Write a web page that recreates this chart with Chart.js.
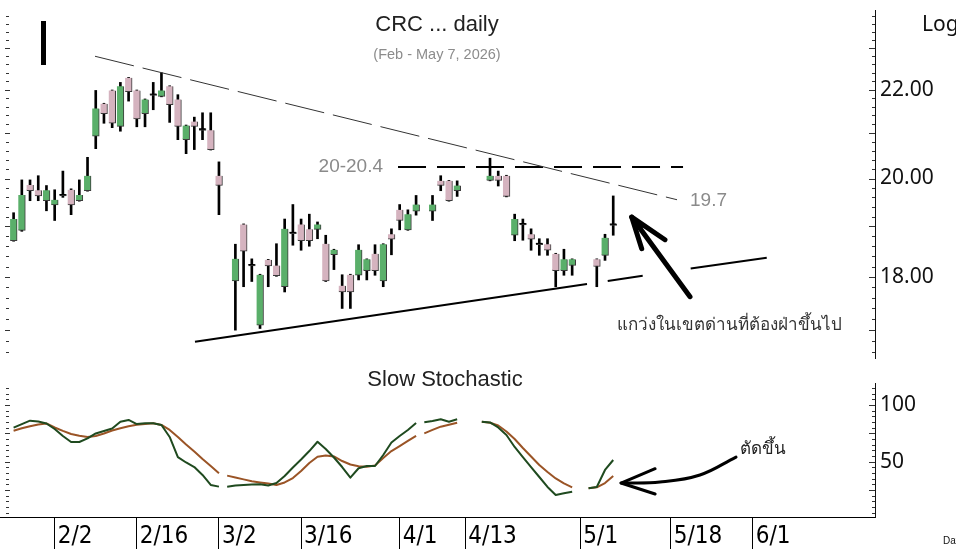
<!DOCTYPE html>
<html><head><meta charset="utf-8">
<script src="https://cdn.jsdelivr.net/npm/chart.js@4.4.1/dist/chart.umd.min.js"></script>
<style>
html,body{margin:0;padding:0;background:#fff;overflow:hidden;}
#wrap{position:relative;width:956px;height:549px;background:#fff;}
#c1{position:absolute;left:0;top:0;}
#c2{position:absolute;left:0;top:366px;}
</style></head><body>
<div id="wrap"><canvas id="c1" width="956" height="366"></canvas><canvas id="c2" width="956" height="183"></canvas></div>
<script>
// ---------- DATA ----------
const days = ['1/26','1/27','1/28','1/29','1/30','2/2','2/3','2/4','2/5','2/6',
 '2/9','2/10','2/11','2/12','2/13','2/16','2/17','2/18','2/19','2/20',
 '2/23','2/24','2/25','2/26','2/27','3/2','3/3','3/4','3/5','3/6',
 '3/9','3/10','3/11','3/12','3/13','3/16','3/17','3/18','3/19','3/20',
 '3/23','3/24','3/25','3/26','3/27','3/30','3/31','4/1','4/2','4/3',
 '4/6','4/7','4/8','4/9','4/10','4/13','4/14','4/15','4/16','4/17',
 '4/20','4/21','4/22','4/23','4/24','4/27','4/28','4/29','4/30','5/1',
 '5/4','5/5','5/6','5/7','5/8','5/11','5/12','5/13','5/14','5/15',
 '5/18','5/19','5/20','5/21','5/22','5/25','5/26','5/27','5/28','5/29',
 '6/1','6/2','6/3','6/4','6/5','6/8','6/9','6/10','6/11','6/12',
 '6/15','6/16','6/17','6/18','6/19','6/22'];
const opens = [18.71,18.92,19.86,19.75,19.53,19.44,19.63,19.76,19.53,19.74,
 20.93,21.67,21.98,21.15,22.28,21.98,21.44,21.86,21.84,22.08,
 21.77,20.85,21.26,21.06,21.06,20.06,null,17.92,19.04,18.21,
 17.09,18.33,18.22,17.81,18.85,19.04,18.94,18.94,18.65,18.43,
 17.83,18.04,18.03,18.12,18.45,17.92,18.84,19.34,18.93,19.31,
 null,19.31,19.95,19.95,19.74,null,null,null,19.96,20.06,
 20.06,18.82,19.03,18.84,18.63,18.64,18.45,18.12,18.22,null,
 null,18.34,18.42,19.02];
const highs = [19.28,19.97,19.97,20.06,19.85,19.76,20.16,19.78,19.97,20.46,
 21.98,21.68,21.99,22.17,22.29,21.99,21.78,22.17,22.40,22.09,
 21.88,21.18,21.36,21.46,21.46,20.36,null,18.64,19.05,18.35,
 18.05,18.34,18.65,19.15,19.45,19.15,19.25,19.09,18.82,18.54,
 18.04,18.05,18.63,18.35,18.63,18.65,18.95,19.45,19.34,19.64,
 null,19.64,20.06,19.96,19.95,null,null,null,20.44,20.16,
 20.07,19.25,19.15,18.95,18.75,18.75,18.46,18.54,18.35,null,
 null,18.35,18.84,19.63];
const lows = [18.70,18.90,19.53,19.53,19.32,19.12,19.60,19.24,19.52,19.73,
 20.65,21.22,21.12,21.04,21.73,21.14,21.14,21.53,21.83,21.24,
 20.85,20.54,20.63,20.85,20.62,19.24,null,17.00,17.81,17.91,
 17.03,17.81,18.01,17.71,18.62,18.52,18.60,18.75,17.91,18.14,
 17.40,17.40,17.94,17.94,18.03,17.81,18.43,18.93,18.92,19.23,
 null,19.12,19.74,19.52,19.62,null,null,null,19.95,19.84,
 19.61,18.71,18.72,18.52,18.42,18.42,17.81,18.03,18.03,null,
 null,17.81,18.32,18.82];
const closes = [19.15,19.65,19.74,19.63,19.75,19.55,19.63,19.44,19.65,20.06,
 21.56,21.44,21.22,22.08,21.95,21.32,21.77,21.86,21.98,21.65,
 21.15,21.17,21.15,21.06,20.63,19.85,null,18.35,18.50,18.21,
 18.04,18.21,18.02,18.95,18.85,18.71,18.71,19.04,17.92,18.53,
 17.71,17.71,18.53,18.34,18.12,18.64,18.74,19.12,19.25,19.45,
 null,19.45,19.85,19.53,19.85,null,null,null,20.06,19.96,
 19.62,19.15,19.03,18.74,18.63,18.52,18.12,18.34,18.34,null,
 null,18.20,18.77,19.02];
const stochK = [80.0,83.2,86.2,85.4,83.7,78.8,72.7,67.4,67.4,70.5,
 74.9,77.1,79.3,85.3,86.8,83.2,83.9,83.9,82.4,71.8,
 54.1,49.3,45.3,38.3,29.5,28.0,28.0,29.0,29.5,29.9,
 30.1,29.0,31.2,37.4,44.9,51.9,59.4,67.6,61.2,53.7,
 45.3,35.9,44.2,46.2,46.2,55.9,66.9,72.7,78.0,84.1,
 84.7,85.9,87.4,85.3,87.4,null,null,85.3,84.6,80.2,
 73.5,63.0,54.1,45.3,36.5,27.7,20.6,22.1,23.5,null,
 26.5,27.7,42.7,51.5];
const stochD = [77.3,79.5,81.3,82.8,83.7,80.2,77.2,74.4,72.9,71.8,
 72.7,74.9,77.5,79.5,81.2,82.5,83.2,83.9,82.4,78.0,
 71.8,65.2,59.0,52.4,46.2,39.8,37.7,36.1,34.4,32.7,
 31.7,30.8,29.5,31.7,35.6,41.8,48.9,54.4,55.5,54.6,
 50.6,47.5,45.9,45.6,46.6,53.3,59.4,63.8,68.3,72.7,
 75.0,78.0,80.9,82.6,84.4,null,null,85.3,84.4,81.9,
 76.6,70.0,62.1,54.6,47.1,40.9,35.2,30.8,27.4,null,
 26.5,27.4,31.2,37.4];
const tickDates = ['2/2','2/16','3/2','3/16','4/1','4/13','5/1','5/18','6/1'];
const priceTicks = [18, 20, 22];
const stochTicks = [50, 100];
// annotation lines (x = trading-day slot, y = price)
const resistX = [9.91, 80.77], resistY = [22.80, 19.55];
const zoneX = [46.8, 81.5], zoneY = [20.25, 20.25];
const supportX = [22.08, 69.81], supportY = [16.79, 17.86];
const supportExtX = [72.33, 76.59, null, 82.43, 91.69], supportExtY = [17.92, 18.02, null, 18.16, 18.37];
const arrowX = [82.35, 75.25, 79.30], arrowY = [17.62, 19.19, 18.73];
const arrowHeadX = [75.25, 76.47], arrowHeadY = [19.19, 18.55];
const stArrowX = [87.95, 83.56, 78.69, 73.95], stArrowY = [54.1, 38.3, 32.1, 31.2];
const stHeadX = [78.1, 73.95, 78.1], stHeadY = [43.8, 31.2, 21.5];

const TITLE = 'CRC ... daily';
const SUBTITLE = '(Feb - May 7, 2026)';
const ZONE_LABEL = '20-20.4';
const LINE_LABEL = '19.7';
const NOTE = 'แกว่งในเขตด่านที่ต้องฝ่าขึ้นไป';
const NOTE2 = 'ตัดขึ้น';
const PANEL2 = 'Slow Stochastic';

// ---------- STYLE / LAYOUT ----------
const XMIN = -1.656, XMAX = 104.87;
const PRICE_MIN = 16.533, PRICE_MAX = 23.959;
const STO_MIN = 1.23, STO_MAX = 119.4;
const UP = '#5aaf6a', DOWN = '#d5b3bf';
const K_COL = '#1f4a1f', D_COL = '#9a5426';
const DATE_FONT = '"DejaVu Sans Condensed", "Liberation Sans Narrow", "Liberation Sans"';

const pts = (xs, ys) => xs.map((v, i) => ({x: v, y: v == null ? null : ys[i]}));

const bodyData = [], wickData = [];
for (let i = 0; i < opens.length; i++) {
  if (opens[i] == null) continue;
  bodyData.push({x: i, y: [opens[i], closes[i]]});
  wickData.push({x: i, y: [lows[i], highs[i]]});
}

function txt(ctx, s, x, y, font, color, align, base) {
  ctx.save(); ctx.font = font; ctx.fillStyle = color;
  ctx.textAlign = align || 'left'; ctx.textBaseline = base || 'middle';
  ctx.fillText(s, x, y); ctx.restore();
}

const topDeco = {
  id: 'topDeco',
  afterDraw(chart) {
    const {ctx, scales: {x, y}, chartArea: ca} = chart;
    txt(ctx, TITLE, 437, 25, '22px "Liberation Sans"', '#222', 'center');
    txt(ctx, SUBTITLE, 437, 55, '14.5px "Liberation Sans"', '#8c8c8c', 'center');
    ctx.fillStyle = '#000'; ctx.fillRect(41, 21, 5, 44);
    txt(ctx, 'Log', 922, 25, '21px "Noto Sans"', '#111', 'left');
    txt(ctx, ZONE_LABEL, x.getPixelForValue(zoneX[0]) - 15, y.getPixelForValue(zoneY[0]), '19px "Liberation Sans"', '#8a8a8a', 'right');
    txt(ctx, LINE_LABEL, x.getPixelForValue(resistX[1]) + 13, y.getPixelForValue(resistY[1]) + 1, '19px "Liberation Sans"', '#8a8a8a', 'left');
    txt(ctx, NOTE, 617, 325, '17px "Noto Sans", "DejaVu Sans", sans-serif', '#333', 'left');
    ctx.fillStyle = '#333';
    for (let k = 83; k <= 119; k++) {
      const v = k / 5, py = Math.round(y.getPixelForValue(v));
      const major = k % 5 === 0;
      if (py < ca.top || py > ca.bottom) continue;
      ctx.fillRect(major ? 5 : 6, py, major ? 5 : 3, 1);
      ctx.fillRect(ca.right - (major ? 6 : 3), py, major ? 6 : 3, 1);
    }
  }
};

const botDeco = {
  id: 'botDeco',
  afterDraw(chart) {
    const {ctx, scales: {x, y}, chartArea: ca} = chart;
    txt(ctx, PANEL2, 445, 14, '22px "Liberation Sans"', '#222', 'center');
    txt(ctx, NOTE2, 740, 83, '17px "Noto Sans", "DejaVu Sans", sans-serif', '#222', 'left');
    txt(ctx, 'Data', 943, 175, '10px "Liberation Sans"', '#111', 'left');
    ctx.fillStyle = '#333';
    for (let v = 5; v <= 115; v += 5) {
      const py = Math.round(y.getPixelForValue(v));
      const major = v % 25 === 0;
      ctx.fillRect(major ? 5 : 6, py, major ? 5 : 3, 1);
      ctx.fillRect(ca.right - (major ? 6 : 3), py, major ? 6 : 3, 1);
    }
  }
};

const lineDs = (data, color, width, dash, order) => ({
  type: 'line', data, borderColor: color, borderWidth: width, borderDash: dash || [],
  pointRadius: 0, tension: 0, spanGaps: false, fill: false, order: order || 0,
  borderCapStyle: 'butt', borderJoinStyle: 'round'
});

new Chart(document.getElementById('c1'), {
  type: 'bar',
  data: {
    datasets: [
      {type: 'bar', data: wickData, backgroundColor: '#000', barThickness: 2, grouped: false, order: 3},
      {type: 'bar', data: bodyData, grouped: false, barThickness: 7, minBarLength: 2, order: 2,
        backgroundColor: c => { const r = c.raw; if (!r) return UP; return r.y[1] > r.y[0] ? UP : (r.y[1] < r.y[0] ? DOWN : '#000'); },
        borderColor: '#3a3a3a', borderWidth: {top: 0, left: 0, right: 1, bottom: 1}, borderSkipped: false},
      lineDs(pts(resistX, resistY), '#333', 1, [40, 9]),
      lineDs(pts(zoneX, zoneY), '#000', 2, [28, 11]),
      lineDs(pts(supportX, supportY), '#000', 2),
      lineDs(pts(supportExtX, supportExtY), '#000', 2),
      Object.assign(lineDs(pts(arrowX, arrowY), '#000', 5), {borderCapStyle: 'round'}),
      Object.assign(lineDs(pts(arrowHeadX, arrowHeadY), '#000', 5), {borderCapStyle: 'round'})
    ]
  },
  options: {
    responsive: false, animation: false, devicePixelRatio: 1,
    layout: {padding: {top: 10, bottom: 8, left: 0, right: 0}},
    plugins: {legend: {display: false}, tooltip: {enabled: false}},
    scales: {
      x: {type: 'linear', min: XMIN, max: XMAX, offset: false, display: false, grid: {offset: false}},
      y: {type: 'logarithmic', position: 'right', min: PRICE_MIN, max: PRICE_MAX,
        afterBuildTicks: s => { s.ticks = priceTicks.map(v => ({value: v})); },
        afterFit: s => { s.width = 81; s.paddingTop = 0; s.paddingBottom = 0; },
        grid: {drawOnChartArea: false, drawTicks: false},
        border: {display: true, color: '#111', width: 1},
        ticks: {padding: 5, color: '#111', font: {family: 'Noto Sans', size: 21}, callback: v => Number(v).toFixed(2)}}
    }
  },
  plugins: [topDeco]
});

const segHide = color => ({borderColor: c => closes[c.p1DataIndex] == null ? 'rgba(0,0,0,0)' : color});
const stoPts = arr => arr.map((v, i) => ({x: i, y: v}));

new Chart(document.getElementById('c2'), {
  type: 'line',
  data: {
    datasets: [
      Object.assign(lineDs(stoPts(stochD), D_COL, 2, [], 1), {segment: segHide(D_COL)}),
      Object.assign(lineDs(stoPts(stochK), K_COL, 2, [], 0), {segment: segHide(K_COL)}),
      Object.assign(lineDs(pts(stArrowX, stArrowY), '#000', 3), {tension: 0.4, borderCapStyle: 'round'}),
      Object.assign(lineDs(pts(stHeadX, stHeadY), '#000', 3), {borderCapStyle: 'round'})
    ]
  },
  options: {
    responsive: false, animation: false, devicePixelRatio: 1,
    layout: {padding: {top: 17, bottom: 0, left: 0, right: 0}},
    plugins: {legend: {display: false}, tooltip: {enabled: false}},
    scales: {
      x: {type: 'linear', min: XMIN, max: XMAX, offset: false,
        afterBuildTicks: s => { s.ticks = tickDates.map(d => ({value: days.indexOf(d)})); },
        afterFit: s => { s.height = 32; s.paddingLeft = 0; s.paddingRight = 0; },
        grid: {drawOnChartArea: false, drawTicks: true, tickLength: 32, color: '#000', tickColor: '#000'},
        border: {display: true, color: '#000', width: 1},
        ticks: {autoSkip: false, maxRotation: 0, align: 'start', labelOffset: 3, padding: -27, color: '#000',
          font: {family: DATE_FONT, size: 24}, callback: v => days[v]}},
      y: {type: 'linear', position: 'right', min: STO_MIN, max: STO_MAX,
        afterBuildTicks: s => { s.ticks = stochTicks.map(v => ({value: v})); },
        afterFit: s => { s.width = 81; s.paddingTop = 0; s.paddingBottom = 0; },
        grid: {drawOnChartArea: false, drawTicks: false},
        border: {display: true, color: '#111', width: 1},
        ticks: {padding: 5, color: '#111', font: {family: 'Noto Sans', size: 21}, callback: v => String(v)}}
    }
  },
  plugins: [botDeco]
});
</script>
</body></html>
